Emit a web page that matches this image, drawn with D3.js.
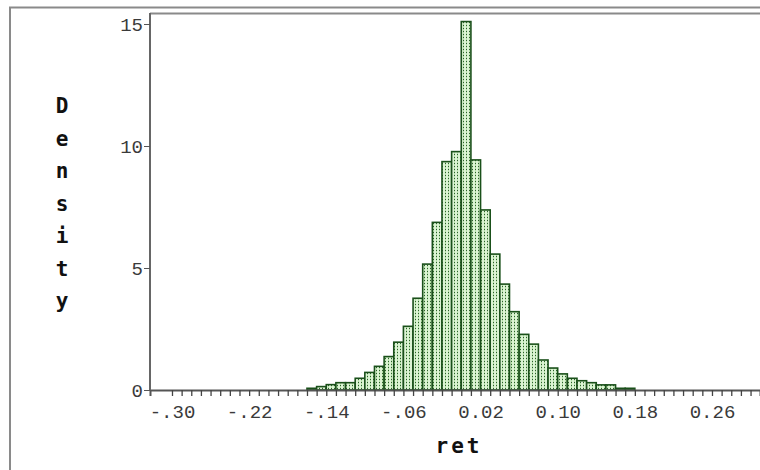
<!DOCTYPE html>
<html>
<head>
<meta charset="utf-8">
<script src="https://cdn.jsdelivr.net/npm/d3@7"></script>
<style>
  body { margin: 0; background: #fff; }
  svg { display: block; }
</style>
</head>
<body>
<div id="chart"></div>
<script>

// histogram of ret, bins of width 0.01 (left edges)
let binStarts = [-0.16, -0.15, -0.14, -0.13, -0.12, -0.11, -0.10, -0.09, -0.08, -0.07,
                 -0.06, -0.05, -0.04, -0.03, -0.02, -0.01, 0.00, 0.01, 0.02, 0.03,
                 0.04, 0.05, 0.06, 0.07, 0.08, 0.09, 0.10, 0.11, 0.12, 0.13,
                 0.14, 0.15, 0.16, 0.17];
let density = [0.07, 0.14, 0.22, 0.30, 0.30, 0.48, 0.72, 0.97, 1.37, 1.96,
               2.61, 3.76, 5.16, 6.87, 9.36, 9.77, 15.1, 9.43, 7.38, 5.57,
               4.34, 3.21, 2.28, 1.88, 1.23, 0.90, 0.66, 0.48, 0.38, 0.30,
               0.21, 0.21, 0.07, 0.07];
let binWidth = 0.01;
let xLabelTicks = [-0.30, -0.22, -0.14, -0.06, 0.02, 0.10, 0.18, 0.26];
let yTicks = [0, 5, 10, 15];

let width = 760;
let height = 470;

let svg = d3.select("#chart").append("svg")
    .attr("width", width)
    .attr("height", height);

// dotted fill like the old stat-package bars
let defs = svg.append("defs");
let pat = defs.append("pattern")
    .attr("id", "dots")
    .attr("patternUnits", "userSpaceOnUse")
    .attr("width", 3)
    .attr("height", 3);
pat.append("rect").attr("width", 3).attr("height", 3).attr("fill", "#dcf3d4");
pat.append("rect").attr("x", 1).attr("y", 0).attr("width", 1).attr("height", 3).attr("fill", "#b5dfa8");
pat.append("rect").attr("x", 1).attr("y", 1).attr("width", 1).attr("height", 1).attr("fill", "#2b5e2b");

let x = d3.scaleLinear().domain([-0.3228, 0.3098]).range([150, 760]);
let y = d3.scaleLinear().domain([0, 15.41]).range([390, 14]);

// outer frame
svg.append("path")
    .attr("d", "M10,470V7.5H760")
    .attr("fill", "none")
    .attr("stroke", "#8a8a8a")
    .attr("stroke-width", 2);

// plot top edge
svg.append("line")
    .attr("x1", 150).attr("x2", 760)
    .attr("y1", 13.5).attr("y2", 13.5)
    .attr("stroke", "#8a8a8a")
    .attr("stroke-width", 2);

// bars
let data = binStarts.map((d, i) => ({x0: d, x1: d + binWidth, v: density[i]}));

svg.append("g")
    .selectAll("rect")
    .data(data)
    .join("rect")
        .attr("x", d => x(d.x0))
        .attr("y", d => y(d.v))
        .attr("width", d => x(d.x1) - x(d.x0))
        .attr("height", d => y(0) - y(d.v))
        .attr("fill", "url(#dots)")
        .attr("stroke", "#1a501a")
        .attr("stroke-width", 1.6);

// x axis: tick every 0.01, labels every 0.08
let allTicks = d3.range(-30, 31).map(d => d / 100);
let fmtX = function(d) {
    let s = d3.format(".2f")(Math.abs(d));
    if (d < 0) return "-" + s.slice(1);
    return s;
};
let xAxis = svg.append("g")
    .attr("transform", "translate(0,390)")
    .call(d3.axisBottom(x)
        .tickValues(allTicks)
        .tickSize(6)
        .tickPadding(9)
        .tickFormat(d => xLabelTicks.some(t => Math.abs(t - d) < 1e-6) ? fmtX(d) : ""));
xAxis.select(".domain").attr("stroke", "#555").attr("stroke-width", 2);
xAxis.selectAll(".tick line").attr("stroke", "#444").attr("stroke-width", 1.3);
xAxis.selectAll("text")
    .attr("font-family", "Liberation Mono, monospace")
    .attr("font-size", 19)
    .attr("fill", "#3a3a3a");

// y axis
let yAxis = svg.append("g")
    .attr("transform", "translate(150,0)")
    .call(d3.axisLeft(y)
        .tickValues(yTicks)
        .tickSize(6)
        .tickPadding(1)
        .tickSizeOuter(0));
yAxis.select(".domain").attr("stroke", "#666").attr("stroke-width", 2).attr("d", "M0,13V390");
yAxis.selectAll(".tick line").attr("stroke", "#555");
yAxis.selectAll("text")
    .attr("font-family", "Liberation Mono, monospace")
    .attr("font-size", 19)
    .attr("fill", "#3a3a3a");

// axis titles
svg.append("text")
    .attr("x", 459)
    .attr("y", 453)
    .attr("text-anchor", "middle")
    .attr("font-family", "DejaVu Sans Mono, monospace")
    .attr("font-weight", "bold")
    .attr("font-size", 21)
    .attr("letter-spacing", 3)
    .attr("fill", "#111")
    .text("ret");

let ylab = svg.append("text")
    .attr("font-family", "DejaVu Sans Mono, monospace")
    .attr("font-weight", "bold")
    .attr("font-size", 21)
    .attr("fill", "#111")
    .attr("text-anchor", "middle");
ylab.selectAll("tspan")
    .data("Density".split(""))
    .join("tspan")
        .attr("x", 62)
        .attr("y", (d, i) => 113 + i * 32.5)
        .text(d => d);

</script>
</body>
</html>
